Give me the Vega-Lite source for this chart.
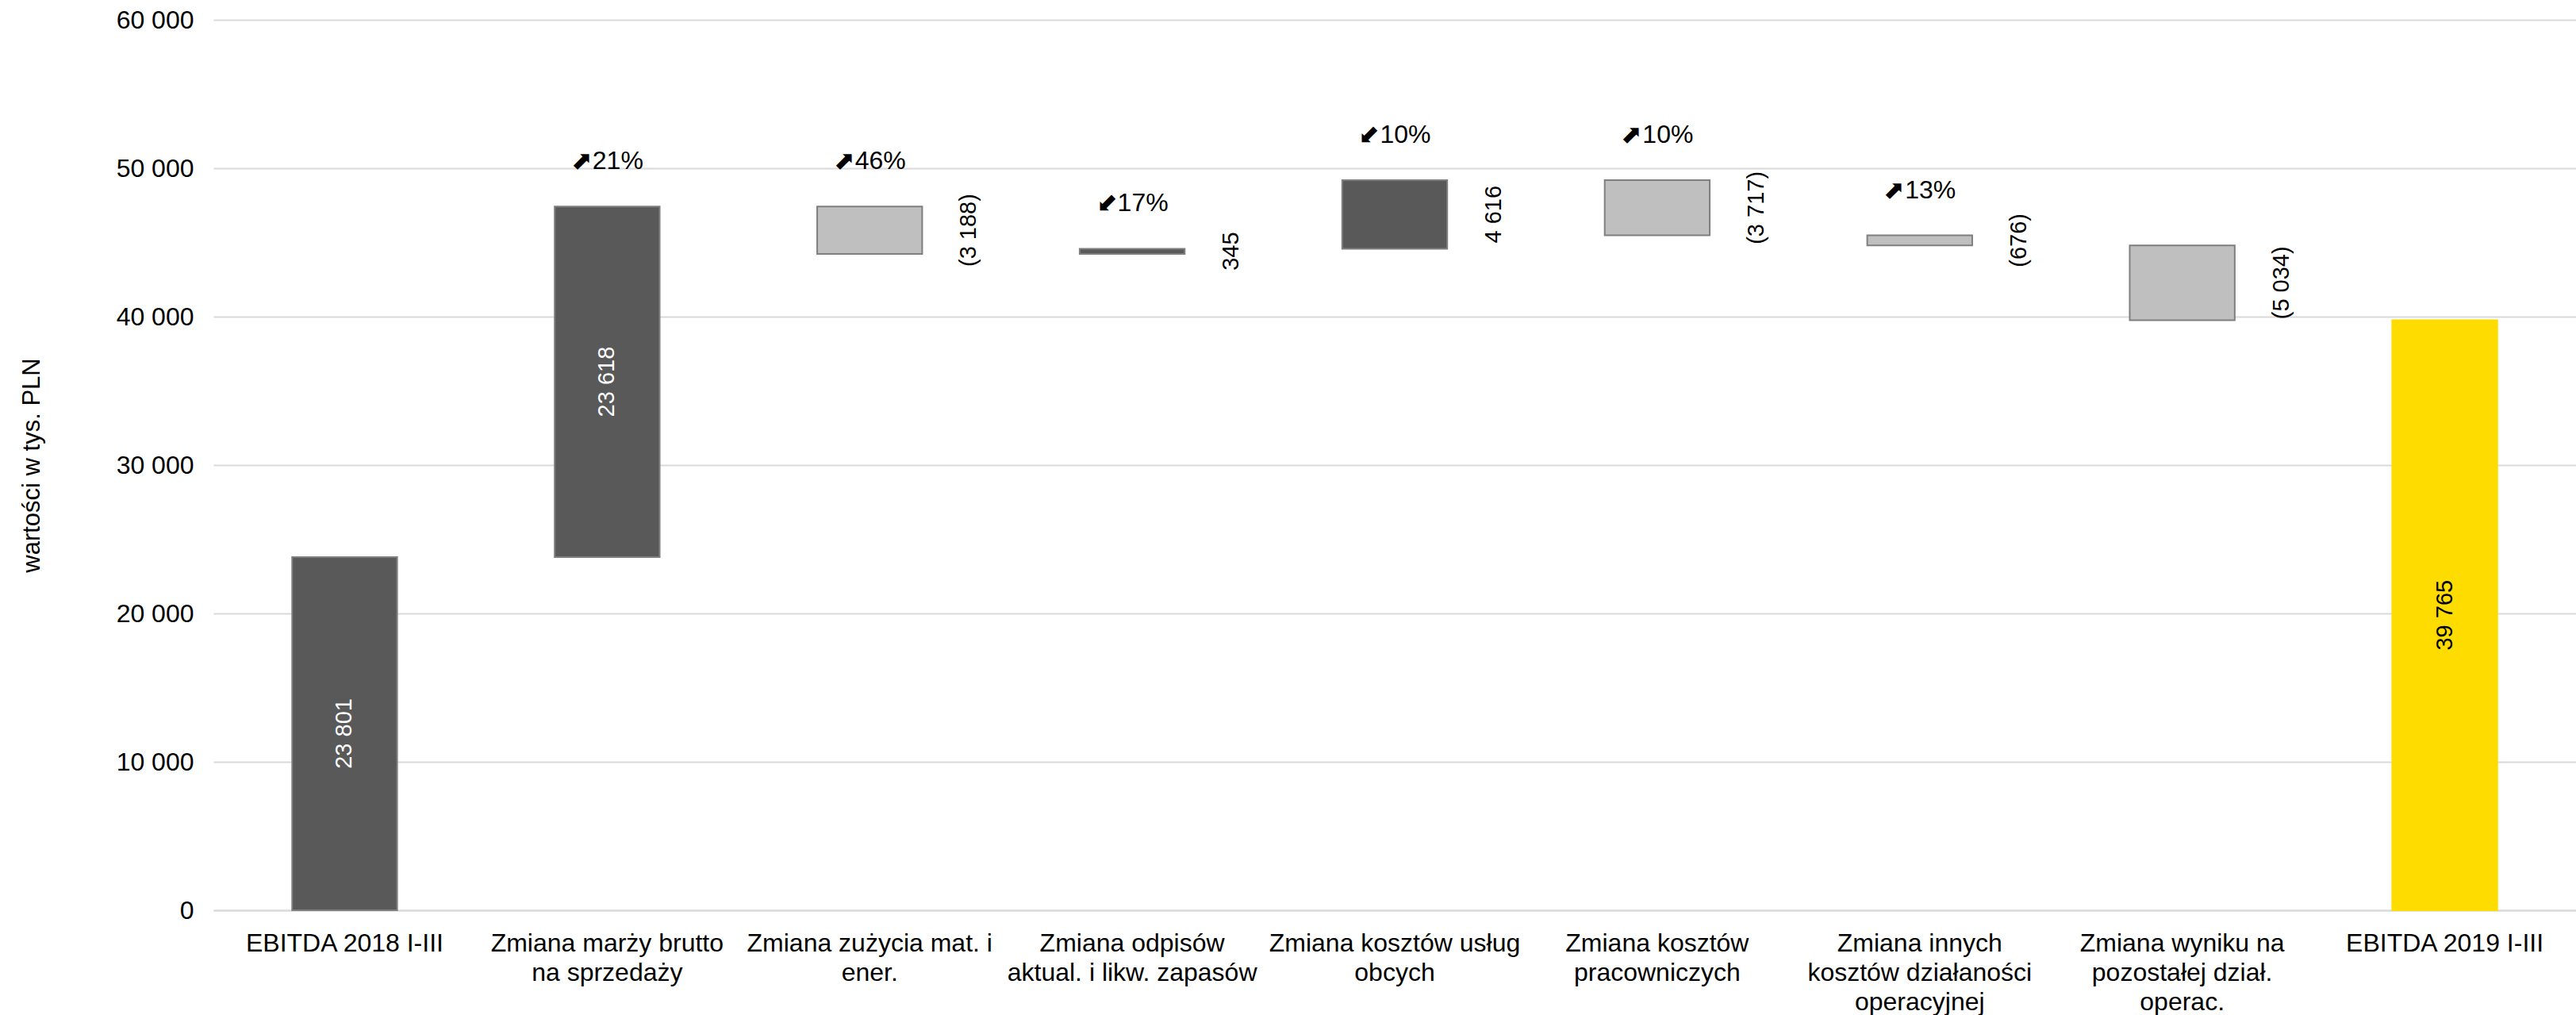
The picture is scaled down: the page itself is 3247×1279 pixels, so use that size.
{
  "$schema": "https://vega.github.io/schema/vega-lite/v6.json",
  "autosize": {"type": "none"},
  "width": 2978,
  "height": 1122,
  "padding": {"left": 269, "top": 25, "right": 0, "bottom": 132},
  "background": "white",
  "config": {
    "view": {"stroke": null},
    "font": "Liberation Sans",
    "text": {"font": "Liberation Sans"}
  },
  "data": {
    "values": [
      {"cat": "EBITDA 2018 I-III", "start": 0, "end": 23801, "kind": "total", "txt": "23 801", "pos": "in", "pct": null},
      {"cat": "Zmiana marży brutto|na sprzedaży", "start": 23801, "end": 47419, "kind": "up", "txt": "23 618", "pos": "in", "pct": "⬈21%"},
      {"cat": "Zmiana zużycia mat. i|ener.", "start": 47419, "end": 44231, "kind": "down", "txt": "(3 188)", "pos": "out", "pct": "⬈46%"},
      {"cat": "Zmiana odpisów|aktual. i likw. zapasów", "start": 44231, "end": 44576, "kind": "up", "txt": "345", "pos": "out", "pct": "⬋17%"},
      {"cat": "Zmiana kosztów usług|obcych", "start": 44576, "end": 49192, "kind": "up", "txt": "4 616", "pos": "out", "pct": "⬋10%"},
      {"cat": "Zmiana kosztów|pracowniczych", "start": 49192, "end": 45475, "kind": "down", "txt": "(3 717)", "pos": "out", "pct": "⬈10%"},
      {"cat": "Zmiana innych|kosztów działaności|operacyjnej", "start": 45475, "end": 44799, "kind": "down", "txt": "(676)", "pos": "out", "pct": "⬈13%"},
      {"cat": "Zmiana wyniku na|pozostałej dział.|operac.", "start": 44799, "end": 39765, "kind": "down", "txt": "(5 034)", "pos": "out", "pct": null},
      {"cat": "EBITDA 2019 I-III", "start": 0, "end": 39765, "kind": "final", "txt": "39 765", "pos": "in", "pct": null}
    ]
  },
  "encoding": {
    "x": {
      "field": "cat",
      "type": "nominal",
      "sort": null,
      "scale": {
        "domain": [
          "EBITDA 2018 I-III",
          "Zmiana marży brutto|na sprzedaży",
          "Zmiana zużycia mat. i|ener.",
          "Zmiana odpisów|aktual. i likw. zapasów",
          "Zmiana kosztów usług|obcych",
          "Zmiana kosztów|pracowniczych",
          "Zmiana innych|kosztów działaności|operacyjnej",
          "Zmiana wyniku na|pozostałej dział.|operac.",
          "EBITDA 2019 I-III"
        ],
        "paddingInner": 0.6,
        "paddingOuter": 0.3
      },
      "axis": {
        "title": null,
        "labelExpr": "split(datum.label, '|')",
        "labelAngle": 0,
        "labelFontSize": 32,
        "labelColor": "black",
        "labelPadding": 26,
        "labelLineHeight": 37,
        "labelBaseline": "top",
        "labelLimit": 600,
        "labelOverlap": false,
        "labelBound": false,
        "ticks": false,
        "domain": true,
        "domainColor": "#D9D9D9",
        "domainWidth": 2
      }
    }
  },
  "layer": [
    {
      "mark": {"type": "bar", "strokeWidth": 2},
      "encoding": {
        "y": {
          "field": "start",
          "type": "quantitative",
          "scale": {"domain": [0, 60000], "nice": false},
          "axis": {
            "title": "wartości w tys. PLN",
            "titleFontSize": 31,
            "titleFontWeight": "normal",
            "titleColor": "black",
            "titlePadding": 90,
            "values": [0, 10000, 20000, 30000, 40000, 50000, 60000],
            "labelExpr": "replace(format(datum.value, ','), ',', ' ')",
            "labelFontSize": 32,
            "labelColor": "black",
            "labelPadding": 25,
            "ticks": false,
            "domain": false,
            "grid": true,
            "gridColor": "#D9D9D9",
            "gridWidth": 2
          }
        },
        "y2": {"field": "end"},
        "color": {
          "field": "kind",
          "type": "nominal",
          "scale": {"domain": ["total", "up", "down", "final"], "range": ["#595959", "#595959", "#BFBFBF", "#FFDC00"]},
          "legend": null
        },
        "stroke": {
          "field": "kind",
          "type": "nominal",
          "scale": {"domain": ["total", "up", "down", "final"], "range": ["#7F7F7F", "#7F7F7F", "#7F7F7F", "#FFDC00"]},
          "legend": null
        }
      }
    },
    {
      "transform": [
        {"filter": "datum.pos === 'in'"},
        {"fold": ["start", "end"], "as": ["k", "v"]},
        {"aggregate": [{"op": "mean", "field": "v", "as": "mid"}], "groupby": ["cat", "kind", "txt"]}
      ],
      "mark": {"type": "text", "angle": 270, "align": "center", "baseline": "middle", "fontSize": 29},
      "encoding": {
        "y": {"field": "mid", "type": "quantitative"},
        "text": {"field": "txt"},
        "color": {"condition": {"test": "datum.kind === 'final'", "value": "black"}, "value": "white"}
      }
    },
    {
      "transform": [
        {"filter": "datum.pos === 'out'"},
        {"fold": ["start", "end"], "as": ["k", "v"]},
        {"aggregate": [{"op": "mean", "field": "v", "as": "mid"}], "groupby": ["cat", "txt"]}
      ],
      "mark": {"type": "text", "angle": 270, "align": "center", "baseline": "middle", "fontSize": 29, "color": "black"},
      "encoding": {
        "x": {"field": "cat", "type": "nominal", "bandPosition": 1.444},
        "y": {"field": "mid", "type": "quantitative"},
        "text": {"field": "txt"}
      }
    },
    {
      "transform": [
        {"filter": "datum.pct != null"},
        {"fold": ["start", "end"], "as": ["k", "v"]},
        {"aggregate": [{"op": "max", "field": "v", "as": "top"}], "groupby": ["cat", "pct"]}
      ],
      "mark": {"type": "text", "align": "center", "baseline": "middle", "fontSize": 32, "color": "black", "dy": -57},
      "encoding": {
        "y": {"field": "top", "type": "quantitative"},
        "text": {"field": "pct"}
      }
    }
  ]
}
